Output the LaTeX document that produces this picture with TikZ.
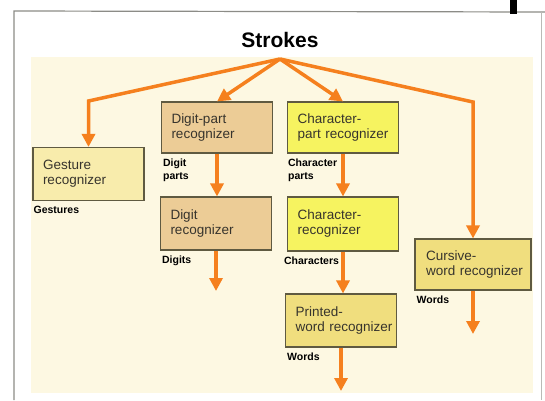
\documentclass[tikz,border=0pt]{standalone}
\usepackage{fontspec}
\setmainfont{Liberation Sans}
\usetikzlibrary{arrows.meta}
\definecolor{arr}{RGB}{245,128,30}
\definecolor{panel}{RGB}{253,248,226}
\definecolor{frame}{RGB}{140,140,135}
\definecolor{boxline}{RGB}{95,90,65}
\definecolor{boxtext}{RGB}{55,52,45}
\definecolor{tan}{RGB}{236,204,150}
\definecolor{brightyel}{RGB}{246,243,96}
\definecolor{paleyel}{RGB}{248,236,172}
\definecolor{khaki}{RGB}{240,222,126}
\begin{document}
\begin{tikzpicture}[x=1pt,y=-1pt,
  box/.style={draw=boxline, line width=1.1pt, minimum height=53pt,
    minimum width=111pt, text width=91pt, inner xsep=10pt, align=left,
    font=\fontsize{13.5}{15}\selectfont, text=boxtext},
  lab/.style={font=\bfseries\fontsize{10.5}{13.5}\selectfont, anchor=north west,
    inner sep=0pt, align=left},
  conn/.style={draw=arr, line width=3.5pt, line join=miter,
    -{Triangle[length=13pt,width=13pt]}}]
\useasboundingbox (0,0) rectangle (545,400);
% frame and panel
\fill[white] (0,0) rectangle (545,400);
\fill[panel] (31,57) rectangle (533,393);
\draw[frame, line width=1.2pt] (14,400) -- (14,11) -- (545,12);
\draw[frame!60, line width=1pt] (541,12) -- (541,400);
\fill[black] (510,0) rectangle (517,14);
% title
\node[font=\bfseries\fontsize{21}{24}\selectfont, inner sep=0pt] (st) at (280,40) {Strokes};
\coordinate (hub) at (280,59);
% boxes
\node[box, fill=paleyel] (ge) at (88.5,174) {\mbox{Gesture}\\\mbox{recognizer}};
\node[box, fill=tan, minimum height=51pt] (dp) at (217,127.5) {\mbox{Digit-part}\\\mbox{recognizer}};
\node[box, fill=tan] (dg) at (216,223.5) {\mbox{Digit}\\\mbox{recognizer}};
\node[box, fill=brightyel, minimum height=51pt] (cp) at (343,127.5) {\mbox{Character-}\\\mbox{part recognizer}};
\node[box, fill=brightyel, minimum height=54pt] (ch) at (343,224) {\mbox{Character-}\\\mbox{recognizer}};
\node[box, fill=khaki] (pw) at (341,320.5) {\mbox{Printed-}\\\mbox{word recognizer}};
\node[box, fill=khaki, minimum width=116pt, text width=94pt, inner xsep=11pt, minimum height=51pt] (cw) at (473,264.5) {\mbox{Cursive-}\\\mbox{word recognizer}};
% labels
\node[lab] (gel) at ([xshift=1pt,yshift=-5pt]ge.south west) {Gestures};
\node[lab] (dpl) at ([xshift=2pt,yshift=-5pt]dp.south west) {Digit\\parts};
\node[lab] (dgl) at ([xshift=2pt,yshift=-5pt]dg.south west) {Digits};
\node[lab] (cpl) at ([xshift=1pt,yshift=-5pt]cp.south west) {Character\\parts};
\node[lab] (chl) at ([xshift=-3pt,yshift=-5pt]ch.south west) {Characters};
\node[lab] (pwl) at ([xshift=2pt,yshift=-5pt]pw.south west) {Words};
\node[lab] (cwl) at ([xshift=2pt,yshift=-5pt]cw.south west) {Words};
% connector corners and free ends
\coordinate (lc) at (88.5,101);
\coordinate (rc) at (473,102);
\coordinate (dgout) at (216,291);
\coordinate (pwout) at (341,391);
\coordinate (cwout) at (473,334);
% connectors
\draw[conn] (hub) -- (lc) -- (ge.north);
\draw[conn] (hub) -- (dp.north);
\draw[conn] (hub) -- (cp.north);
\draw[conn] (hub) -- (rc) -- (cw.north);
\draw[conn] (dp.south) -- (dp.south |- dg.north);
\draw[conn] (cp.south) -- (cp.south |- ch.north);
\draw[conn] (ch.south) -- (ch.south |- pw.north);
\draw[conn] (dg.south) -- (dgout);
\draw[conn] (pw.south) -- (pwout);
\draw[conn] (cw.south) -- (cwout);
\end{tikzpicture}
\end{document}
